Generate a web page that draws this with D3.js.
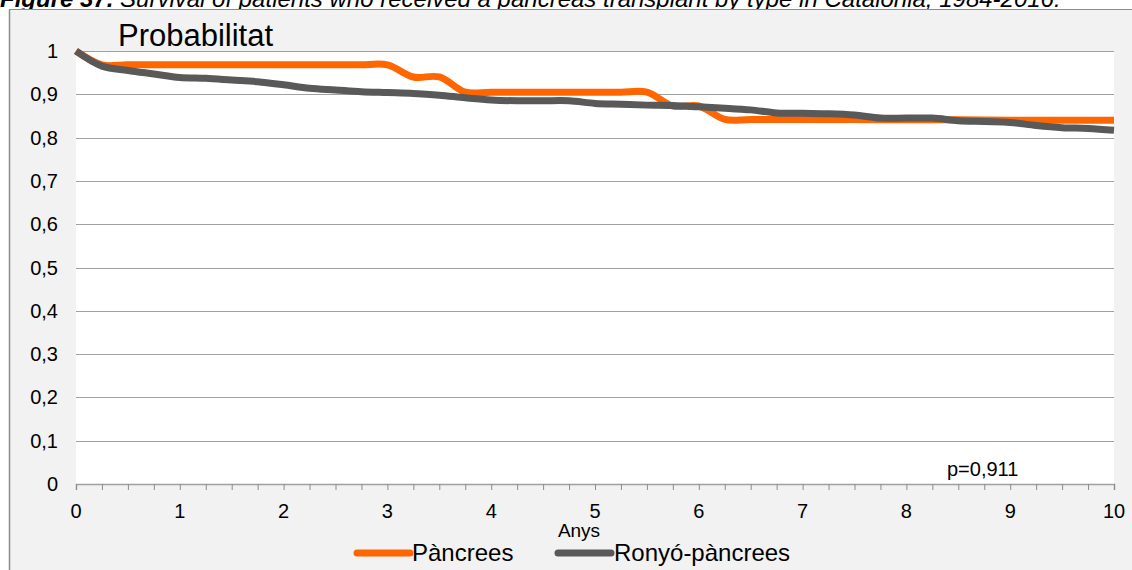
<!DOCTYPE html>
<html><head><meta charset="utf-8">
<script src="https://cdn.jsdelivr.net/npm/d3@7"></script>
<style>
html,body{margin:0;padding:0;background:#fff;}
svg{display:block;font-family:Arial,"Liberation Sans",sans-serif;}
</style></head>
<body><svg id="c" width="1132" height="570"></svg>
<script>
// ---- data ----
const pancreasX = [0, 0.25, 0.5, 1.0, 1.5, 2.0, 2.5, 2.75, 3.0, 3.25, 3.5, 3.75, 4.0, 4.5, 5.0, 5.25, 5.5, 5.75, 6.0, 6.25, 6.5, 7.0, 7.5, 8.0, 8.5, 9.0, 9.5, 10];
const pancreasY = [1, 0.968, 0.968, 0.968, 0.968, 0.968, 0.968, 0.968, 0.968, 0.94, 0.94, 0.905, 0.905, 0.905, 0.905, 0.905, 0.905, 0.873, 0.873, 0.842, 0.842, 0.842, 0.842, 0.841, 0.841, 0.840, 0.840, 0.840];
const ronyoX = [0, 0.25, 0.5, 0.75, 1.0, 1.25, 1.5, 1.75, 2.0, 2.25, 2.5, 2.75, 3.0, 3.25, 3.5, 3.75, 4.0, 4.25, 4.5, 4.75, 5.0, 5.25, 5.5, 5.75, 6.0, 6.25, 6.5, 6.75, 7.0, 7.25, 7.5, 7.75, 8.0, 8.25, 8.5, 8.75, 9.0, 9.25, 9.5, 9.75, 10];
const ronyoY = [1, 0.965, 0.955, 0.947, 0.939, 0.937, 0.933, 0.929, 0.922, 0.914, 0.910, 0.906, 0.904, 0.902, 0.898, 0.892, 0.887, 0.885, 0.885, 0.885, 0.879, 0.877, 0.875, 0.874, 0.871, 0.868, 0.864, 0.857, 0.856, 0.855, 0.852, 0.845, 0.845, 0.845, 0.839, 0.837, 0.835, 0.828, 0.823, 0.821, 0.817];
const seriesNames = ["Pàncrees", "Ronyó-pàncrees"];
const yTicks = [0, 0.1, 0.2, 0.3, 0.4, 0.5, 0.6, 0.7, 0.8, 0.9, 1];
const xTicks = [0, 1, 2, 3, 4, 5, 6, 7, 8, 9, 10];
const minorTicks = d3.range(0, 10.001, 0.25);

const svg = d3.select("#c");
const W = 1132, H = 570;
const m = {left: 76, right: 1114, top: 51, bottom: 484};
const x = d3.scaleLinear().domain([0, 10]).range([m.left, m.right]);
const y = d3.scaleLinear().domain([0, 1]).range([m.bottom, m.top]);
const fmt = d => d3.format(".1~f")(d).replace(".", ",");

// caption (clipped at top as in the source)
const cap = svg.append("text").attr("x", 0).attr("y", 7).attr("font-size", 24).attr("font-style", "italic").attr("fill", "#000");
cap.append("tspan").attr("font-weight", "bold").text("Figure 37. ");
cap.append("tspan").text("Survival of ");
cap.append("tspan").attr("text-decoration", "underline").text("patients");
cap.append("tspan").text(" who received a pancreas transplant by type in Catalonia, 1984-2016.");

// panel
svg.append("rect").attr("x", 9).attr("y", 9.5).attr("width", W - 9).attr("height", H - 9.5).attr("fill", "#f2f2f2");
svg.append("line").attr("x1", 9).attr("x2", W).attr("y1", 9.5).attr("y2", 9.5).attr("stroke", "#8c8c8c").attr("stroke-width", 1);
svg.append("line").attr("x1", 9.5).attr("x2", 9.5).attr("y1", 9.5).attr("y2", H).attr("stroke", "#8c8c8c").attr("stroke-width", 1.5);

// plot area
svg.append("rect").attr("x", m.left).attr("y", m.top).attr("width", m.right - m.left).attr("height", m.bottom - m.top).attr("fill", "#fff");

// gridlines
svg.append("g").selectAll("line").data(yTicks.filter(d => d > 0)).join("line")
  .attr("x1", m.left).attr("x2", m.right)
  .attr("y1", d => Math.round(y(d)) + 0.5).attr("y2", d => Math.round(y(d)) + 0.5)
  .attr("stroke", "#a0a0a0").attr("stroke-width", 1.2);

// y labels
svg.append("g").selectAll("text").data(yTicks).join("text")
  .attr("x", 58).attr("y", d => y(d) + 7).attr("text-anchor", "end")
  .attr("font-size", 20).attr("fill", "#000").text(fmt);

// x axis
const xAxis = d3.axisBottom(x).tickValues(minorTicks).tickSize(6).tickFormat("");
const gx = svg.append("g").attr("transform", `translate(0,${m.bottom})`).call(xAxis);
gx.select(".domain").attr("stroke", "#a0a0a0").attr("stroke-width", 1.5);
gx.selectAll(".tick line").attr("stroke", "#8c8c8c");
svg.append("g").selectAll("text").data(xTicks).join("text")
  .attr("x", d => x(d)).attr("y", 518).attr("text-anchor", "middle")
  .attr("font-size", 20).attr("fill", "#000").text(d => d);

svg.append("text").attr("x", 579).attr("y", 537).attr("text-anchor", "middle").attr("font-size", 19).text("Anys");
svg.append("text").attr("x", 118).attr("y", 46).attr("font-size", 31).text("Probabilitat");
svg.append("text").attr("x", 947).attr("y", 476).attr("font-size", 20).text("p=0,911");

// lines
const line = d3.line().x(d => x(d[0])).y(d => y(d[1])).curve(d3.curveCatmullRom.alpha(0.5));
const colors = ["#ff6600", "#595959"];
svg.append("path").datum(pancreasX.map((v, i) => [v, pancreasY[i]]))
  .attr("d", line).attr("fill", "none").attr("stroke", colors[0]).attr("stroke-width", 7).attr("stroke-linejoin", "round");
svg.append("path").datum(ronyoX.map((v, i) => [v, ronyoY[i]]))
  .attr("d", line).attr("fill", "none").attr("stroke", colors[1]).attr("stroke-width", 7).attr("stroke-linejoin", "round");

// legend
const leg = [{x1: 357, x2: 410, tx: 412}, {x1: 558, x2: 611, tx: 614}];
leg.forEach((l, i) => {
  svg.append("line").attr("x1", l.x1).attr("x2", l.x2).attr("y1", 553).attr("y2", 553)
    .attr("stroke", colors[i]).attr("stroke-width", 7).attr("stroke-linecap", "round");
  svg.append("text").attr("x", l.tx).attr("y", 561).attr("font-size", 24).text(seriesNames[i]);
});
</script></body></html>
